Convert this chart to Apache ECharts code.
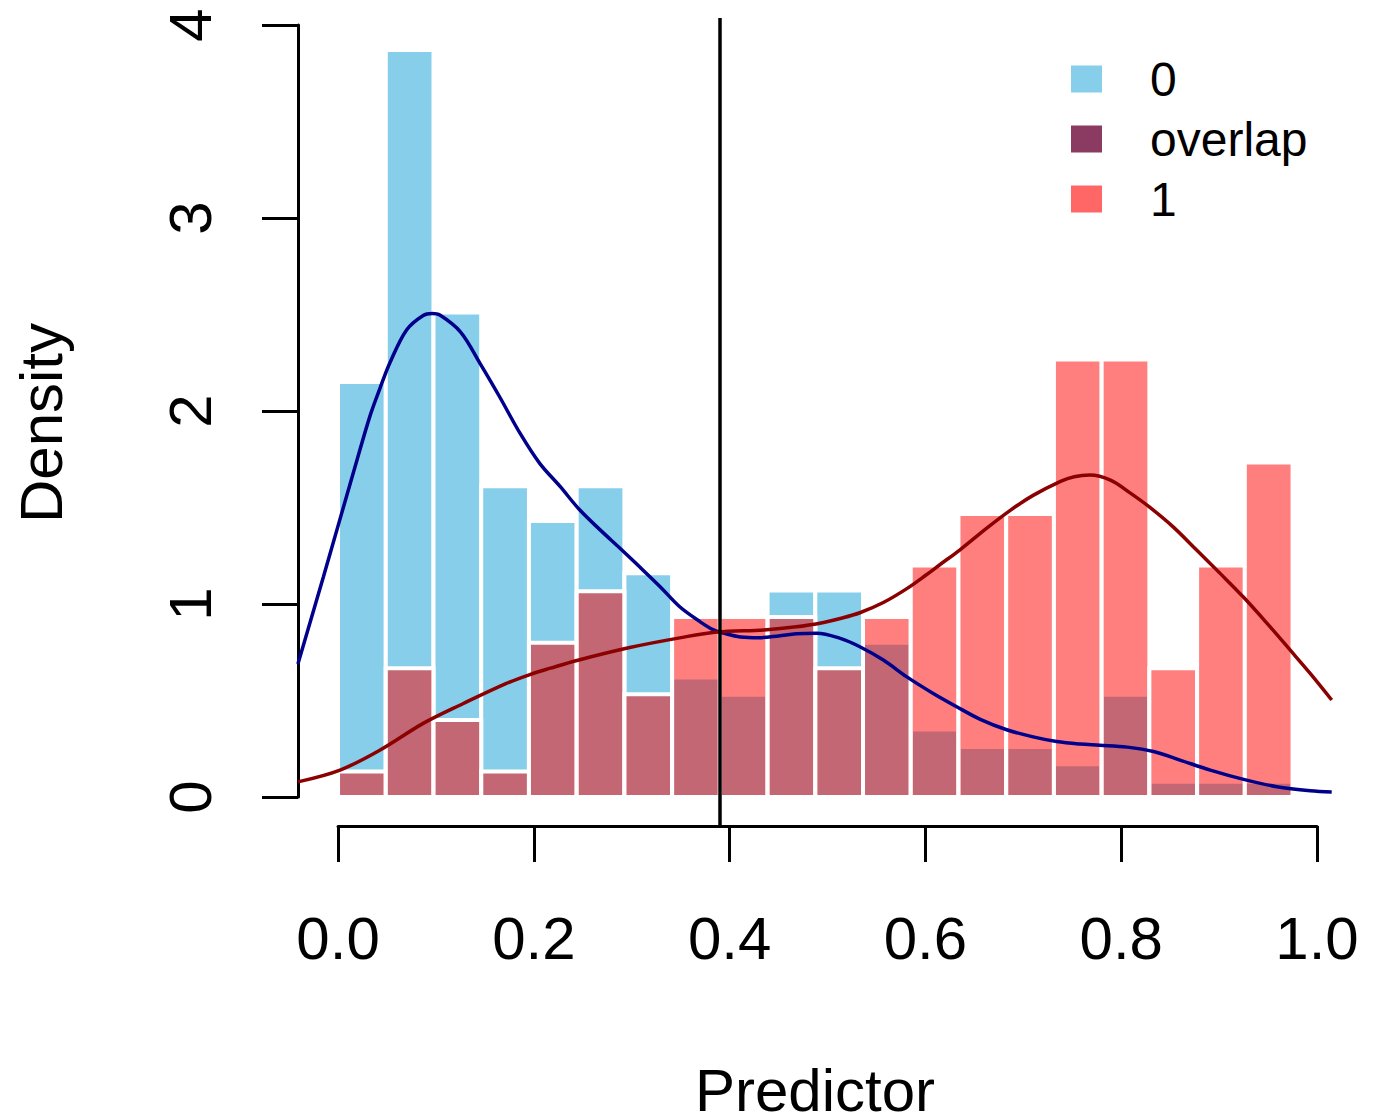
<!DOCTYPE html>
<html><head><meta charset="utf-8">
<script src="https://cdn.jsdelivr.net/npm/echarts@6/dist/echarts.min.js"></script>
<style>html,body{margin:0;padding:0;background:#fff}#c{width:1377px;height:1114px}</style>
</head><body><div id="c"></div>
<script>
// ---------------- data ----------------
const binEdges = [0, 0.04875, 0.0975, 0.14625, 0.195, 0.24375, 0.2925, 0.34125, 0.39, 0.43875, 0.4875,
                  0.53625, 0.585, 0.63375, 0.6825, 0.73125, 0.78, 0.82875, 0.8775, 0.92625, 0.975];
const density0 = [2.15, 3.87, 2.51, 1.61, 1.43, 1.61, 1.16, 0.62, 0.53, 1.07,
                  1.07, 0.80, 0.35, 0.26, 0.26, 0.17, 0.53, 0.08, 0.08, 0.08];
const density1 = [0.133, 0.667, 0.40, 0.133, 0.80, 1.067, 0.533, 0.933, 0.933, 0.933,
                  0.667, 0.933, 1.20, 1.467, 1.467, 2.267, 2.267, 0.667, 1.20, 1.733];
const kde0 = [[-0.041,0.69],[-0.015,1.14],[0.002,1.44],[0.019,1.74],[0.033,1.98],[0.043,2.12],[0.053,2.25],
  [0.070,2.42],[0.087,2.495],[0.096,2.505],[0.104,2.497],[0.125,2.41],[0.145,2.247],[0.165,2.074],[0.186,1.884],
  [0.206,1.729],[0.227,1.608],[0.247,1.487],[0.268,1.383],[0.288,1.289],[0.308,1.193],[0.329,1.09],[0.349,0.986],
  [0.370,0.908],[0.383,0.868],[0.397,0.845],[0.411,0.83],[0.430,0.826],[0.450,0.835],[0.468,0.846],[0.489,0.849],
  [0.513,0.822],[0.533,0.779],[0.557,0.71],[0.581,0.623],[0.608,0.537],[0.632,0.468],[0.656,0.403],[0.683,0.349],
  [0.710,0.312],[0.734,0.288],[0.758,0.275],[0.778,0.269],[0.806,0.259],[0.833,0.236],[0.860,0.192],[0.891,0.14],
  [0.925,0.092],[0.959,0.054],[0.993,0.033],[1.015,0.027]];
const kde1 = [[-0.041,0.079],[0.002,0.14],[0.043,0.244],[0.087,0.382],[0.128,0.485],[0.172,0.589],[0.196,0.635],
  [0.217,0.668],[0.244,0.708],[0.298,0.775],[0.349,0.825],[0.387,0.855],[0.435,0.866],[0.468,0.882],[0.496,0.905],
  [0.513,0.925],[0.533,0.955],[0.557,1.008],[0.581,1.08],[0.601,1.152],[0.615,1.205],[0.635,1.28],[0.663,1.395],
  [0.687,1.487],[0.710,1.563],[0.738,1.636],[0.752,1.66],[0.768,1.668],[0.789,1.642],[0.809,1.576],[0.829,1.502],
  [0.853,1.40],[0.877,1.28],[0.901,1.159],[0.925,1.035],[0.949,0.90],[0.972,0.765],[0.993,0.641],[1.015,0.503]];
const threshold = 0.39;
const xTickLabels = ['0.0', '0.2', '0.4', '0.6', '0.8', '1.0'];
const yTickLabels = ['0', '1', '2', '3', '4'];
const legendLabels = ['0', 'overlap', '1'];
const xTitle = 'Predictor';
const yTitle = 'Density';

// ---------------- layout ----------------
const FONT = '"Liberation Sans", Arial, Helvetica, sans-serif';
const plotLeft = 298, plotRight = 1332, plotTop = 18, plotBottom = 828;
const xMin = -0.0409, xMax = 1.0153, yMin = -0.16, yMax = 4.036;
const sx = (plotRight - plotLeft) / (xMax - xMin);
const sy = (plotBottom - plotTop) / (yMax - yMin);
const x0px = plotLeft + (0 - xMin) * sx;
const x1px = plotLeft + (1 - xMin) * sx;
const y0px = plotBottom - (0 - yMin) * sy;
const y4px = plotBottom - (4 - yMin) * sy;
const xAxisLineY = 826;

function histRender(fill) {
  return function (params, api) {
    const p0 = api.coord([api.value(0), api.value(2)]);
    const p1 = api.coord([api.value(1), 0]);
    return {
      type: 'rect',
      shape: { x: p0[0], y: p0[1], width: p1[0] - p0[0], height: p1[1] - p0[1] },
      style: { fill: fill, stroke: '#ffffff', lineWidth: 4 }
    };
  };
}
const hist0Data = density0.map((d, i) => [binEdges[i], binEdges[i + 1], d]);
const hist1Data = density1.map((d, i) => [binEdges[i], binEdges[i + 1], d]);

const chart = echarts.init(document.getElementById('c'), null, { renderer: 'svg' });
chart.setOption({
  animation: false,
  backgroundColor: '#ffffff',
  textStyle: { fontFamily: FONT },
  grid: [
    { left: plotLeft, top: plotTop, width: plotRight - plotLeft, height: plotBottom - plotTop, outerBoundsMode: 'none', containLabel: false },
    { left: x0px, top: 700, width: x1px - x0px, height: xAxisLineY - 700, outerBoundsMode: 'none', containLabel: false },
    { left: plotLeft, top: y4px, width: 100, height: y0px - y4px, outerBoundsMode: 'none', containLabel: false }
  ],
  xAxis: [
    { gridIndex: 0, type: 'value', min: xMin, max: xMax, show: false },
    { gridIndex: 1, type: 'value', min: 0, max: 1, interval: 0.2, position: 'bottom',
      axisLine: { show: true, lineStyle: { color: '#000', width: 3 } },
      axisTick: { show: true, length: 36, inside: false, lineStyle: { color: '#000', width: 3 } },
      axisLabel: { show: true, fontSize: 60, color: '#000', fontFamily: FONT, margin: 112,
        verticalAlign: 'middle', showMinLabel: true, showMaxLabel: true,
        formatter: v => xTickLabels[Math.round(v / 0.2)] },
      splitLine: { show: false } },
    { gridIndex: 2, type: 'value', show: false }
  ],
  yAxis: [
    { gridIndex: 0, type: 'value', min: yMin, max: yMax, show: false },
    { gridIndex: 1, type: 'value', show: false },
    { gridIndex: 2, type: 'value', min: 0, max: 4, interval: 1, position: 'left',
      axisLine: { show: true, lineStyle: { color: '#000', width: 3 } },
      axisTick: { show: true, length: 36, inside: false, lineStyle: { color: '#000', width: 3 } },
      axisLabel: { show: true, fontSize: 60, color: '#000', fontFamily: FONT, margin: 108, rotate: 90,
        align: 'center', verticalAlign: 'middle', showMinLabel: true, showMaxLabel: true,
        formatter: v => yTickLabels[Math.round(v)] },
      splitLine: { show: false } }
  ],
  legend: {
    orient: 'vertical', left: 1071, top: 55, padding: 0, itemWidth: 31, itemHeight: 27, itemGap: 12,
    icon: 'rect', selectedMode: false,
    itemStyle: { borderWidth: 0 },
    textStyle: { fontSize: 48, lineHeight: 48, color: '#000', fontFamily: FONT, padding: [0, 0, 0, 43] },
    data: [
      { name: legendLabels[0], itemStyle: { color: '#87CEEB', borderWidth: 0 } },
      { name: legendLabels[1], itemStyle: { color: '#8B3A62', borderWidth: 0 } },
      { name: legendLabels[2], itemStyle: { color: '#FF6666', borderWidth: 0 } }
    ]
  },
  graphic: [
    { type: 'text', x: (plotLeft + plotRight) / 2, y: 1090,
      style: { text: xTitle, font: '60px ' + FONT, fill: '#000', align: 'center', verticalAlign: 'middle' } },
    { type: 'text', x: 41, y: (plotTop + plotBottom) / 2, rotation: Math.PI / 2,
      style: { text: yTitle, font: '60px ' + FONT, fill: '#000', align: 'center', verticalAlign: 'middle' } }
  ],
  series: [
    { name: legendLabels[0], type: 'custom', xAxisIndex: 0, yAxisIndex: 0, z: 1,
      renderItem: histRender('#87CEEB'), encode: { x: [0, 1], y: 2 }, data: hist0Data,
      itemStyle: { color: '#87CEEB' } },
    { name: legendLabels[2], type: 'custom', xAxisIndex: 0, yAxisIndex: 0, z: 2,
      renderItem: histRender('rgba(255,0,0,0.5)'), encode: { x: [0, 1], y: 2 }, data: hist1Data,
      itemStyle: { color: '#FF6666' } },
    { name: legendLabels[1], type: 'custom', xAxisIndex: 0, yAxisIndex: 0, z: 2,
      renderItem: histRender('#8B3A62'), data: [], itemStyle: { color: '#8B3A62' } },
    { name: 'kde0', type: 'line', xAxisIndex: 0, yAxisIndex: 0, z: 3, data: kde0,
      showSymbol: false, smooth: 0.35, lineStyle: { color: '#00008B', width: 3.5 }, itemStyle: { color: '#00008B' } },
    { name: 'kde1', type: 'line', xAxisIndex: 0, yAxisIndex: 0, z: 4, data: kde1,
      showSymbol: false, smooth: 0.35, lineStyle: { color: '#8B0000', width: 3.5 }, itemStyle: { color: '#8B0000' },
      markLine: { silent: true, symbol: ['none', 'none'], label: { show: false },
        lineStyle: { color: '#000', width: 3.5, type: 'solid' },
        data: [{ xAxis: threshold }] } }
  ]
});
</script></body></html>
